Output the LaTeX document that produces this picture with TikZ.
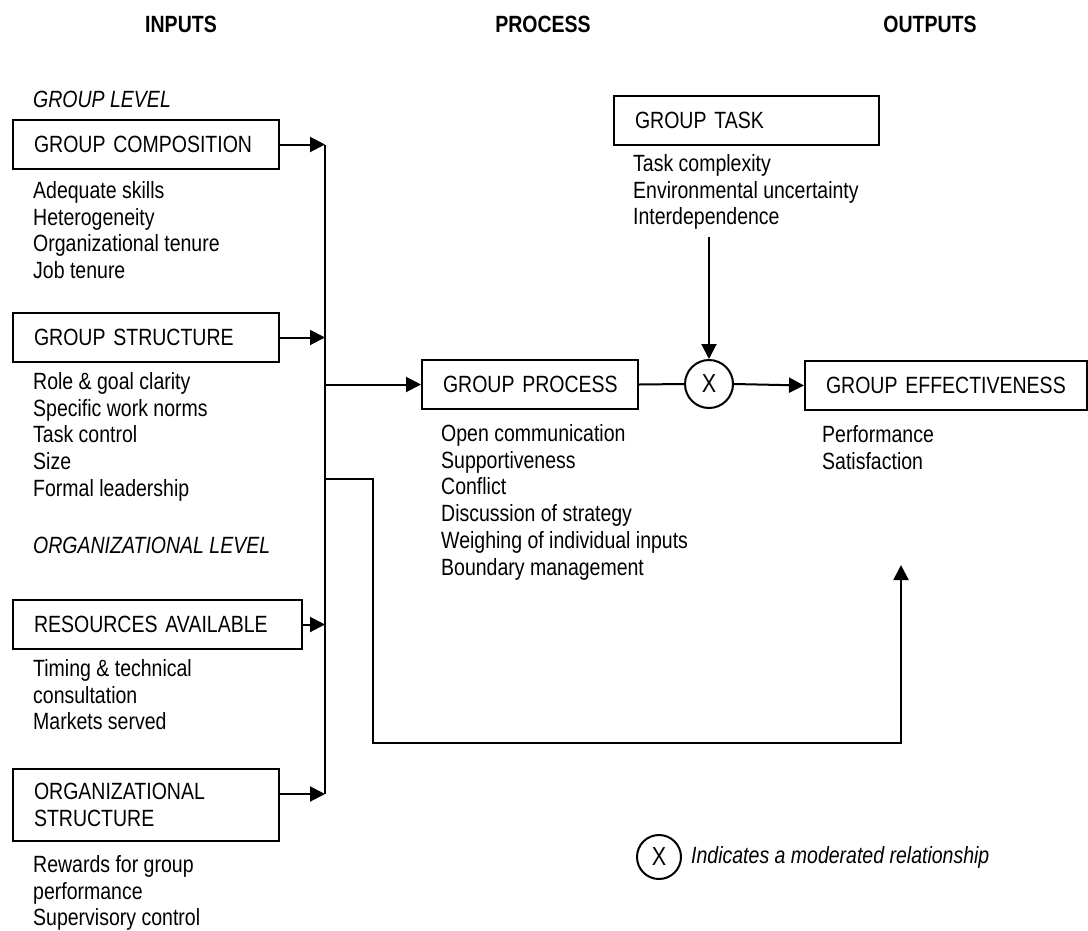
\documentclass[tikz,border=0pt]{standalone}
\usepackage{fontspec}
\setmainfont{Liberation Sans}[FakeStretch=0.83]
\usepackage{tikz}
\usetikzlibrary{arrows.meta,positioning}
\tikzstyle{factor} = [rectangle, draw, line width=2pt, anchor=north west, inner sep=0pt, minimum height=49pt, align=left, execute at begin node={\leftskip=21pt}]
\tikzstyle{items} = [inner sep=0pt, align=left]
\tikzstyle{level} = [inner sep=0pt, anchor=base west, font=\itshape]
\tikzstyle{heading} = [inner sep=0pt, anchor=base, font=\bfseries]
\tikzstyle{moderator} = [circle, draw, line width=2pt, inner sep=0pt, font=\fontsize{26}{28}\selectfont]
\tikzstyle{line} = [line width=2pt]
\tikzstyle{arrow} = [line width=2pt, -{Triangle[length=15pt,width=15pt]}]

\begin{document}
\fontsize{23.5}{26.8}\selectfont
\begin{tikzpicture}[x=1pt, y=-1pt]
\useasboundingbox (0,0) rectangle (1088,930);

\node (inputs) [heading] at (181,32) {INPUTS};
\node (process) [heading] at (543,32) {PROCESS};
\node (outputs) [heading] at (930,32) {OUTPUTS};

\node (grouplevel) [level] at (33,107) {GROUP LEVEL};
\node (comp) [factor, text width=266pt] at (12,119) {GROUP COMPOSITION};
\node (complist) [items, below right=11pt and 21pt of comp.south west] {Adequate skills\\Heterogeneity\\Organizational tenure\\Job tenure};

\node (struct) [factor, text width=266pt] at (12,312) {GROUP STRUCTURE};
\node (structlist) [items, below right=9pt and 21pt of struct.south west] {Role \& goal clarity\\Specific work norms\\Task control\\Size\\Formal leadership};

\node (orglevel) [level] at (33,553) {ORGANIZATIONAL LEVEL};
\node (res) [factor, text width=289pt] at (12,599) {RESOURCES AVAILABLE};
\node (reslist) [items, below right=9pt and 21pt of res.south west] {Timing \& technical\\consultation\\Markets served};

\node (orgstruct) [factor, text width=266pt, minimum height=72pt] at (12,768) {ORGANIZATIONAL\\STRUCTURE};
\node (orgstructlist) [items, below right=13pt and 21pt of orgstruct.south west] {Rewards for group\\performance\\Supervisory control};

\node (task) [factor, text width=265pt] at (613,95) {GROUP TASK};
\node (tasklist) [items, below right=8pt and 20pt of task.south west] {Task complexity\\Environmental uncertainty\\Interdependence};

\node (proc) [factor, text width=216pt] at (421,359) {GROUP PROCESS};
\node (proclist) [items, below right=14pt and 20pt of proc.south west] {Open communication\\Supportiveness\\Conflict\\Discussion of strategy\\Weighing of individual inputs\\Boundary management};

\node (mod) [moderator, minimum size=48pt] at (709,384) {X};

\node (effect) [factor, text width=282pt] at (804,360) {GROUP EFFECTIVENESS};
\node (effectlist) [items, below right=14pt and 18pt of effect.south west] {Performance\\Satisfaction};

\coordinate (bus) at (325,0);
\coordinate (busend) at (325,794);
\coordinate (fb) at (325,479);
\coordinate (fbtip) at (901,565);
\coordinate (taskend) at (709,237);

\draw[line] (comp.east -| bus) -- (busend);
\draw[arrow] (comp.east) -- (comp.east -| bus);
\draw[arrow] (struct.east) -- (struct.east -| bus);
\draw[arrow] (res.east) -- (res.east -| bus);
\draw[arrow] (orgstruct.east |- busend) -- (busend);
\draw[arrow] (proc.west -| bus) -- (proc.west);
\draw[arrow] (fb) -- ++(48,0) -- ++(0,264) -| (fbtip);
\draw[line] (proc.east) -- (mod.west);
\draw[arrow] (mod.east) -- (effect.west);
\draw[arrow] (taskend) -- (mod.north);

\node (legend) [moderator, minimum size=44pt] at (659,857) {X};
\node (legendtext) [right=9pt of legend, inner sep=0pt, font=\itshape] {Indicates a moderated relationship};
\end{tikzpicture}
\end{document}
